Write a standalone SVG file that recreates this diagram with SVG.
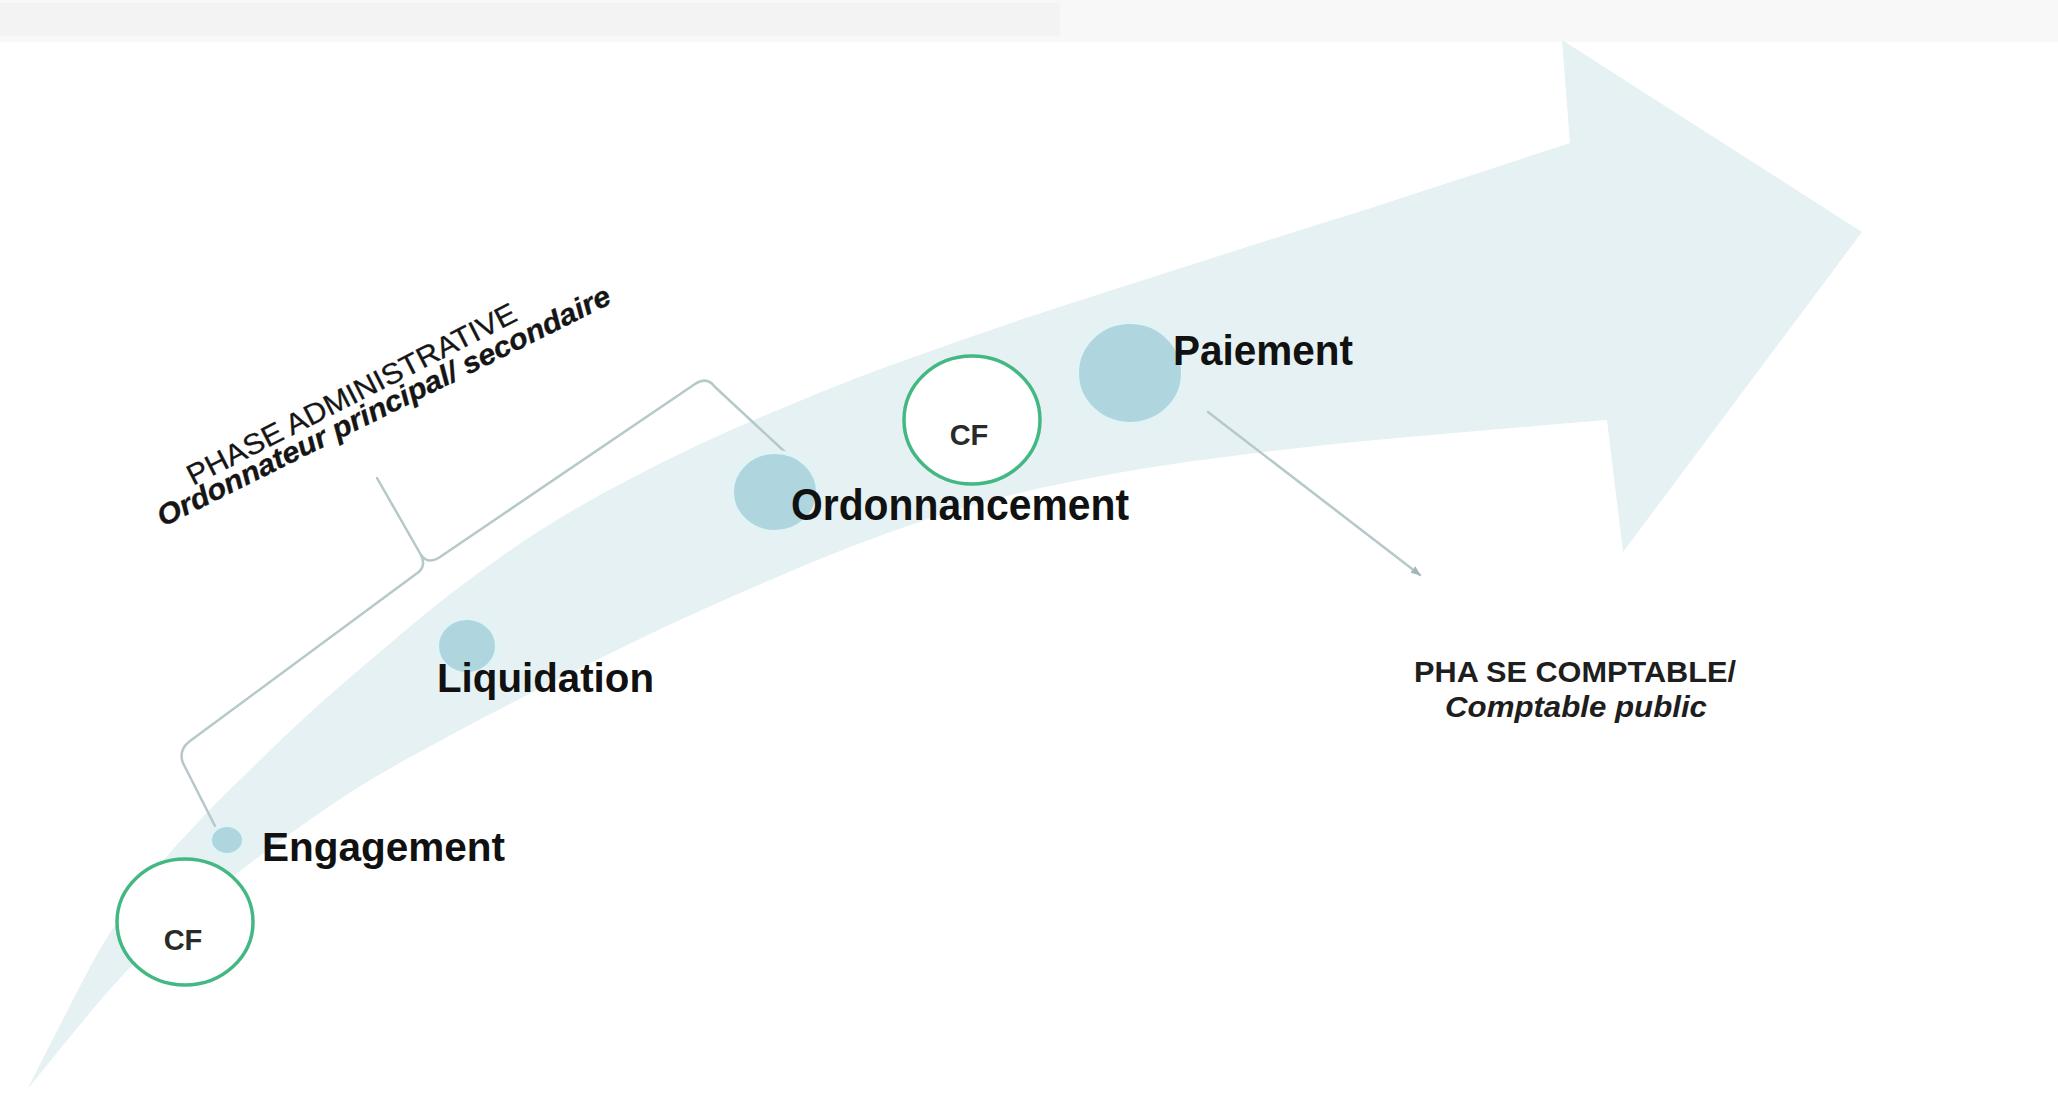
<svg xmlns="http://www.w3.org/2000/svg" width="2058" height="1096" viewBox="0 0 2058 1096">
  <style>
    .step { font-family: "Liberation Sans", Arial, sans-serif; font-weight: bold; font-size: 40px; fill: #111; }
    .narrow { font-family: "Liberation Sans Narrow", "Liberation Sans", Arial, sans-serif; font-weight: bold; fill: #111; }
    .cf { font-family: "Liberation Sans", Arial, sans-serif; font-weight: bold; font-size: 29px; fill: #2a2a2a; text-anchor: middle; }
    .phase { font-family: "Liberation Sans", Arial, sans-serif; font-size: 29px; fill: #151515; stroke: #151515; stroke-width: 0.3px; }
    .note { font-family: "Liberation Sans Narrow", "Liberation Sans", Arial, sans-serif; font-weight: bold; fill: #1e1e1e; }
    .dot { fill: #afd6de; stroke: #e2f3f6; stroke-width: 4; }
    .ring { fill: #ffffff; stroke: #43b883; stroke-width: 3.5; }
    .link { fill: none; stroke: #b7c8cb; stroke-width: 2.5; stroke-linecap: round; stroke-linejoin: round; }
  </style>
  <defs>
    <marker id="tip" viewBox="0 0 10 10" refX="9" refY="5" markerWidth="4" markerHeight="4" orient="auto">
      <path d="M0,1 L10,5 L0,9 z" fill="#a5b4b7"/>
    </marker>
  </defs>

  <rect width="2058" height="1096" fill="#ffffff"/>
  <!-- faint banner strip along the top edge -->
  <rect x="0" y="0" width="2058" height="42" fill="#f8f8f8"/>
  <rect x="0" y="3" width="1060" height="33" fill="#f3f3f3"/>

  <!-- curved process arrow -->
  <g id="process-arrow">
    <path fill="#e6f1f3" d="
      M 27,1090
      Q 70,1005 90,967 Q 110,930 135,896 Q 160,862 188,833 Q 215,803 248,772
      Q 280,740 315,708 Q 350,677 400,635 Q 450,592 505,554 Q 560,515 630,479
      Q 700,442 778,410 Q 855,377 928,352 Q 1000,326 1075,302 Q 1150,278 1225,254
      Q 1300,230 1368,209 Q 1435,187 1503,165 L 1570,143
      L 1562,40 L 1862,232 L 1623,552 L 1607,420
      Q 1450,433 1375,440 Q 1300,447 1225,457 Q 1150,466 1075,481 Q 1000,495 925,520
      Q 850,545 775,578 Q 700,610 650,634 Q 600,658 549,684 Q 497,710 427,748
      Q 357,785 304,824 Q 250,862 218,889 Q 185,915 154,944 Q 123,973 99,1002
      Q 75,1030 27,1090 Z"/>
  </g>

  <!-- connectors -->
  <g id="connectors">
    <path class="link" d="M 377,478 L 421,555 Q 427,567 416,574 L 190,741 Q 178,750 183,763 L 216,828"/>
    <path class="link" d="M 421,555 Q 428,565 440,557 L 695,384 Q 707,376 715,387 L 785,452"/>
    <path class="link" d="M 1208,412 L 1420,575" stroke="#a9b7ba" stroke-width="2" marker-end="url(#tip)"/>
  </g>

  <!-- phase labels -->
  <g id="label-administrative">
    <text class="phase" transform="translate(193,486) rotate(-27)" textLength="366" lengthAdjust="spacingAndGlyphs">PHASE ADMINISTRATIVE</text>
    <text class="phase" transform="translate(163,527) rotate(-26.5)" font-weight="bold" font-style="italic" stroke-width="0" textLength="503" lengthAdjust="spacingAndGlyphs">Ordonnateur principal/ secondaire</text>
  </g>
  <g id="label-comptable">
    <text class="note" x="1414" y="682" font-size="30" textLength="322" lengthAdjust="spacingAndGlyphs">PHA<tspan dx="7">SE COMPTABLE/</tspan></text>
    <text class="note" x="1445" y="717" font-size="29" font-style="italic" textLength="262" lengthAdjust="spacingAndGlyphs">Comptable public</text>
  </g>

  <!-- control checkpoints -->
  <g id="cf-engagement">
    <ellipse class="ring" cx="185" cy="922" rx="68" ry="63"/>
    <text class="cf" x="183" y="950">CF</text>
  </g>
  <g id="cf-ordonnancement">
    <ellipse class="ring" cx="972" cy="420" rx="68" ry="64"/>
    <text class="cf" x="969" y="445">CF</text>
  </g>

  <!-- steps -->
  <g id="step-engagement">
    <ellipse class="dot" cx="227" cy="840" rx="17" ry="15"/>
    <text class="step" x="262" y="861" textLength="243" lengthAdjust="spacingAndGlyphs">Engagement</text>
  </g>
  <g id="step-liquidation">
    <ellipse class="dot" cx="467" cy="646" rx="30" ry="28"/>
    <text class="step" x="437" y="692" textLength="217" lengthAdjust="spacingAndGlyphs">Liquidation</text>
  </g>
  <g id="step-ordonnancement">
    <ellipse class="dot" cx="775" cy="492" rx="43" ry="40"/>
    <text class="narrow" x="791" y="520" font-size="44" textLength="338" lengthAdjust="spacingAndGlyphs">Ordonnancement</text>
  </g>
  <g id="step-paiement">
    <ellipse class="dot" cx="1130" cy="373" rx="53" ry="51"/>
    <text class="narrow" x="1173" y="365" font-size="42" textLength="180" lengthAdjust="spacingAndGlyphs">Paiement</text>
  </g>
</svg>
